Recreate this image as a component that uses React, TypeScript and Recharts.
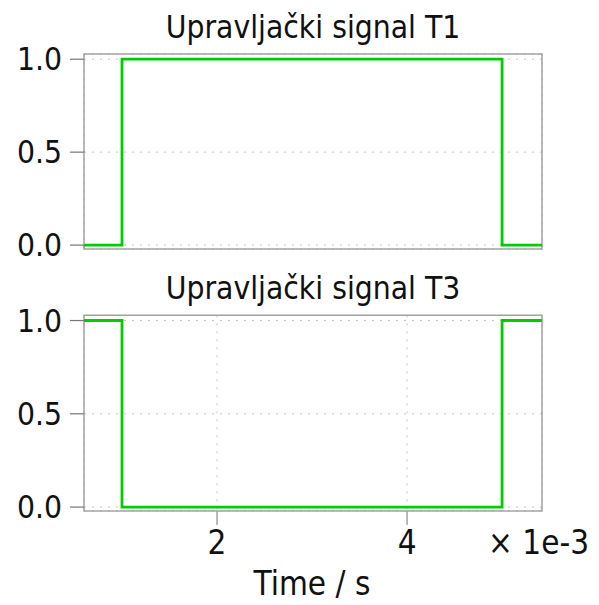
import { LineChart, Line, XAxis, YAxis, CartesianGrid, ReferenceArea } from "recharts";

const FONT = '"DejaVu Sans Condensed", "DejaVu Sans", sans-serif';
const GREEN = "#00cc00";

// time in units of 1e-3 s
const timeMs = [0.6, 1.0, 5.0, 5.42];
const signalT1 = [0, 1, 0, 0];
const signalT3 = [1, 0, 1, 1];
const xTicks = [2, 4];
const yTicks = [0, 0.5, 1];
const xDomain: [number, number] = [0.6, 5.42];
const yDomain: [number, number] = [-0.021, 1.028];

const dataT1 = timeMs.map((t, i) => ({ t, v: signalT1[i] }));
const dataT3 = timeMs.map((t, i) => ({ t, v: signalT3[i] }));

const yTickStyle = { fontSize: 31.5, fill: "#111", fontFamily: FONT };
const xTickStyle = { fontSize: 33, fill: "#111", fontFamily: FONT };

function Panel({ data, height, margin, showX }: any) {
  return (
    <LineChart width={599} height={height} data={data} margin={margin}>
      <CartesianGrid stroke="#c4c4c4" strokeDasharray="2 6" />
      <ReferenceArea
        x1={xDomain[0]}
        x2={xDomain[1]}
        y1={yDomain[0]}
        y2={yDomain[1]}
        fill="none"
        stroke="#a3a3a3"
        strokeWidth={1.5}
        fillOpacity={0}
      />
      <XAxis
        dataKey="t"
        type="number"
        domain={xDomain}
        allowDataOverflow
        ticks={xTicks}
        axisLine={false}
        tick={showX ? xTickStyle : false}
        tickLine={showX ? { stroke: "#a3a3a3", strokeWidth: 1.5 } : false}
        tickSize={14}
        tickMargin={6}
        height={showX ? 94 : 0}
        interval={0}
      />
      <YAxis
        type="number"
        domain={yDomain}
        allowDataOverflow
        ticks={yTicks}
        tickFormatter={(v: number) => v.toFixed(1)}
        axisLine={false}
        tick={yTickStyle}
        tickLine={{ stroke: "#777", strokeWidth: 1.2 }}
        tickSize={14}
        tickMargin={8}
        width={84}
        interval={0}
      />
      <Line
        type="stepAfter"
        dataKey="v"
        stroke={GREEN}
        strokeWidth={2.8}
        dot={false}
        isAnimationActive={false}
      />
    </LineChart>
  );
}

const textBase: any = {
  position: "absolute",
  fontFamily: FONT,
  fontSize: 31.5,
  lineHeight: "32px",
  color: "#111",
  whiteSpace: "nowrap",
};

export default function App() {
  return (
    <div style={{ position: "relative", width: 599, height: 605, background: "#fff", overflow: "hidden" }}>
      <style>{`body{margin:0}`}</style>
      <div style={{ position: "absolute", left: 0, top: 0 }}>
        <Panel data={dataT1} height={275} margin={{ top: 54, right: 57, left: 0, bottom: 26 }} showX={false} />
      </div>
      <div style={{ position: "absolute", left: 0, top: 275 }}>
        <Panel data={dataT3} height={330} margin={{ top: 40.3, right: 57, left: 0, bottom: 0 }} showX={true} />
      </div>
      <div style={{ ...textBase, left: 0, width: 626, textAlign: "center", top: 10.5 }}>Upravljački signal T1</div>
      <div style={{ ...textBase, left: 0, width: 626, textAlign: "center", top: 271.5 }}>Upravljački signal T3</div>
      <div style={{ ...textBase, fontSize: 33, left: 488, top: 527 }}>× 1e-3</div>
      <div style={{ ...textBase, fontSize: 33, left: 0, width: 624, textAlign: "center", top: 568 }}>Time / s</div>
    </div>
  );
}
